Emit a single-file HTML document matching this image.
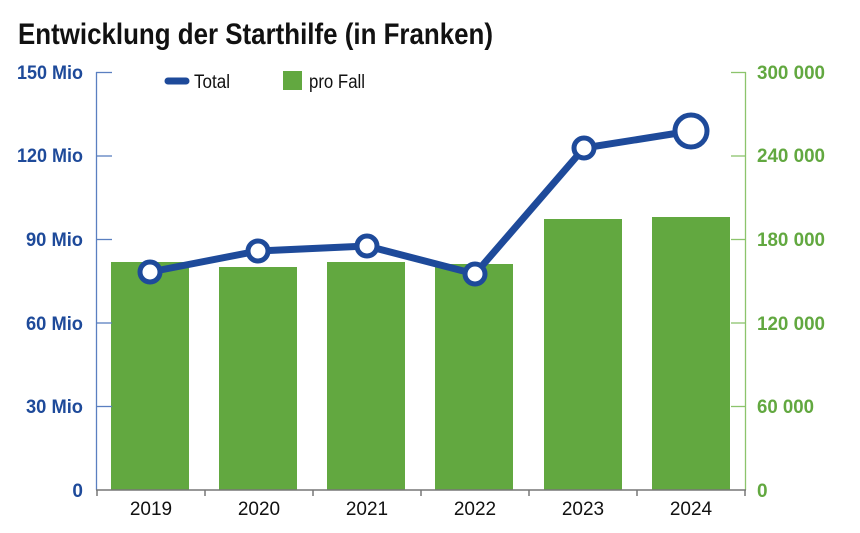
<!DOCTYPE html>
<html><head><meta charset="utf-8"><style>
body{margin:0;background:#fff;width:860px;height:528px;overflow:hidden}
text{font-family:"Liberation Sans Narrow","Liberation Sans",sans-serif}
</style></head><body>
<svg width="860" height="528" xmlns="http://www.w3.org/2000/svg">
<text x="18" y="44" font-size="30" font-weight="bold" fill="#111" textLength="475" lengthAdjust="spacingAndGlyphs">Entwicklung der Starthilfe (in Franken)</text>
<g fill="#62a840">
<rect x="111" y="262" width="78" height="228"/>
<rect x="219" y="267" width="78" height="223"/>
<rect x="327" y="262" width="78" height="228"/>
<rect x="435" y="264" width="78" height="226"/>
<rect x="544" y="219" width="78" height="271"/>
<rect x="652" y="217" width="78" height="273"/>
</g>
<g stroke="#5a7fc0" stroke-width="1.3">
<line x1="96.5" y1="72" x2="96.5" y2="490"/>
<line x1="96" y1="72.5" x2="112" y2="72.5"/>
<line x1="96" y1="156" x2="112" y2="156"/>
<line x1="96" y1="239.5" x2="112" y2="239.5"/>
<line x1="96" y1="323" x2="112" y2="323"/>
<line x1="96" y1="406.5" x2="112" y2="406.5"/>
</g>
<g stroke="#8cc46c" stroke-width="1.3">
<line x1="745.5" y1="72" x2="745.5" y2="490"/>
<line x1="731" y1="72.5" x2="746" y2="72.5"/>
<line x1="731" y1="156" x2="746" y2="156"/>
<line x1="731" y1="239.5" x2="746" y2="239.5"/>
<line x1="731" y1="323" x2="746" y2="323"/>
<line x1="731" y1="406.5" x2="746" y2="406.5"/>
</g>
<g stroke="#777" stroke-width="1.5">
<line x1="96" y1="490" x2="746" y2="490"/>
<line x1="97" y1="490" x2="97" y2="496"/>
<line x1="205" y1="490" x2="205" y2="496"/>
<line x1="313" y1="490" x2="313" y2="496"/>
<line x1="421" y1="490" x2="421" y2="496"/>
<line x1="529" y1="490" x2="529" y2="496"/>
<line x1="637" y1="490" x2="637" y2="496"/>
<line x1="745" y1="490" x2="745" y2="496"/>
</g>
<g font-size="19" font-weight="bold" fill="#1e4a9a" text-anchor="end">
<text x="83" y="79" textLength="66" lengthAdjust="spacingAndGlyphs">150 Mio</text>
<text x="83" y="162" textLength="66" lengthAdjust="spacingAndGlyphs">120 Mio</text>
<text x="83" y="246" textLength="57" lengthAdjust="spacingAndGlyphs">90 Mio</text>
<text x="83" y="330" textLength="57" lengthAdjust="spacingAndGlyphs">60 Mio</text>
<text x="83" y="413" textLength="57" lengthAdjust="spacingAndGlyphs">30 Mio</text>
<text x="83" y="497">0</text>
</g>
<g font-size="19" font-weight="bold" fill="#62a840">
<text x="757" y="79" textLength="68" lengthAdjust="spacingAndGlyphs">300 000</text>
<text x="757" y="162" textLength="68" lengthAdjust="spacingAndGlyphs">240 000</text>
<text x="757" y="246" textLength="68" lengthAdjust="spacingAndGlyphs">180 000</text>
<text x="757" y="330" textLength="68" lengthAdjust="spacingAndGlyphs">120 000</text>
<text x="757" y="413" textLength="57" lengthAdjust="spacingAndGlyphs">60 000</text>
<text x="757" y="497">0</text>
</g>
<g font-size="19" fill="#111" text-anchor="middle">
<text x="151" y="515">2019</text>
<text x="259" y="515">2020</text>
<text x="367" y="515">2021</text>
<text x="475" y="515">2022</text>
<text x="583" y="515">2023</text>
<text x="691" y="515">2024</text>
</g>
<line x1="168" y1="81" x2="186" y2="81" stroke="#1e4a9a" stroke-width="7" stroke-linecap="round"/>
<text x="194" y="88" font-size="19" fill="#111" textLength="36" lengthAdjust="spacingAndGlyphs">Total</text>
<rect x="283" y="71" width="19" height="19" fill="#62a840"/>
<text x="309" y="88" font-size="19" fill="#111" textLength="56" lengthAdjust="spacingAndGlyphs">pro Fall</text>
<polyline points="150,272 258,251 367,246 475,274 584,148 691,131" fill="none" stroke="#1e4a9a" stroke-width="7" stroke-linejoin="round"/>
<g fill="#fff" stroke="#1e4a9a" stroke-width="5">
<circle cx="150" cy="272" r="10"/>
<circle cx="258" cy="251" r="10"/>
<circle cx="367" cy="246" r="10"/>
<circle cx="475" cy="274" r="10"/>
<circle cx="584" cy="148" r="10"/>
<circle cx="691" cy="131" r="16"/>
</g>
</svg>
</body></html>
